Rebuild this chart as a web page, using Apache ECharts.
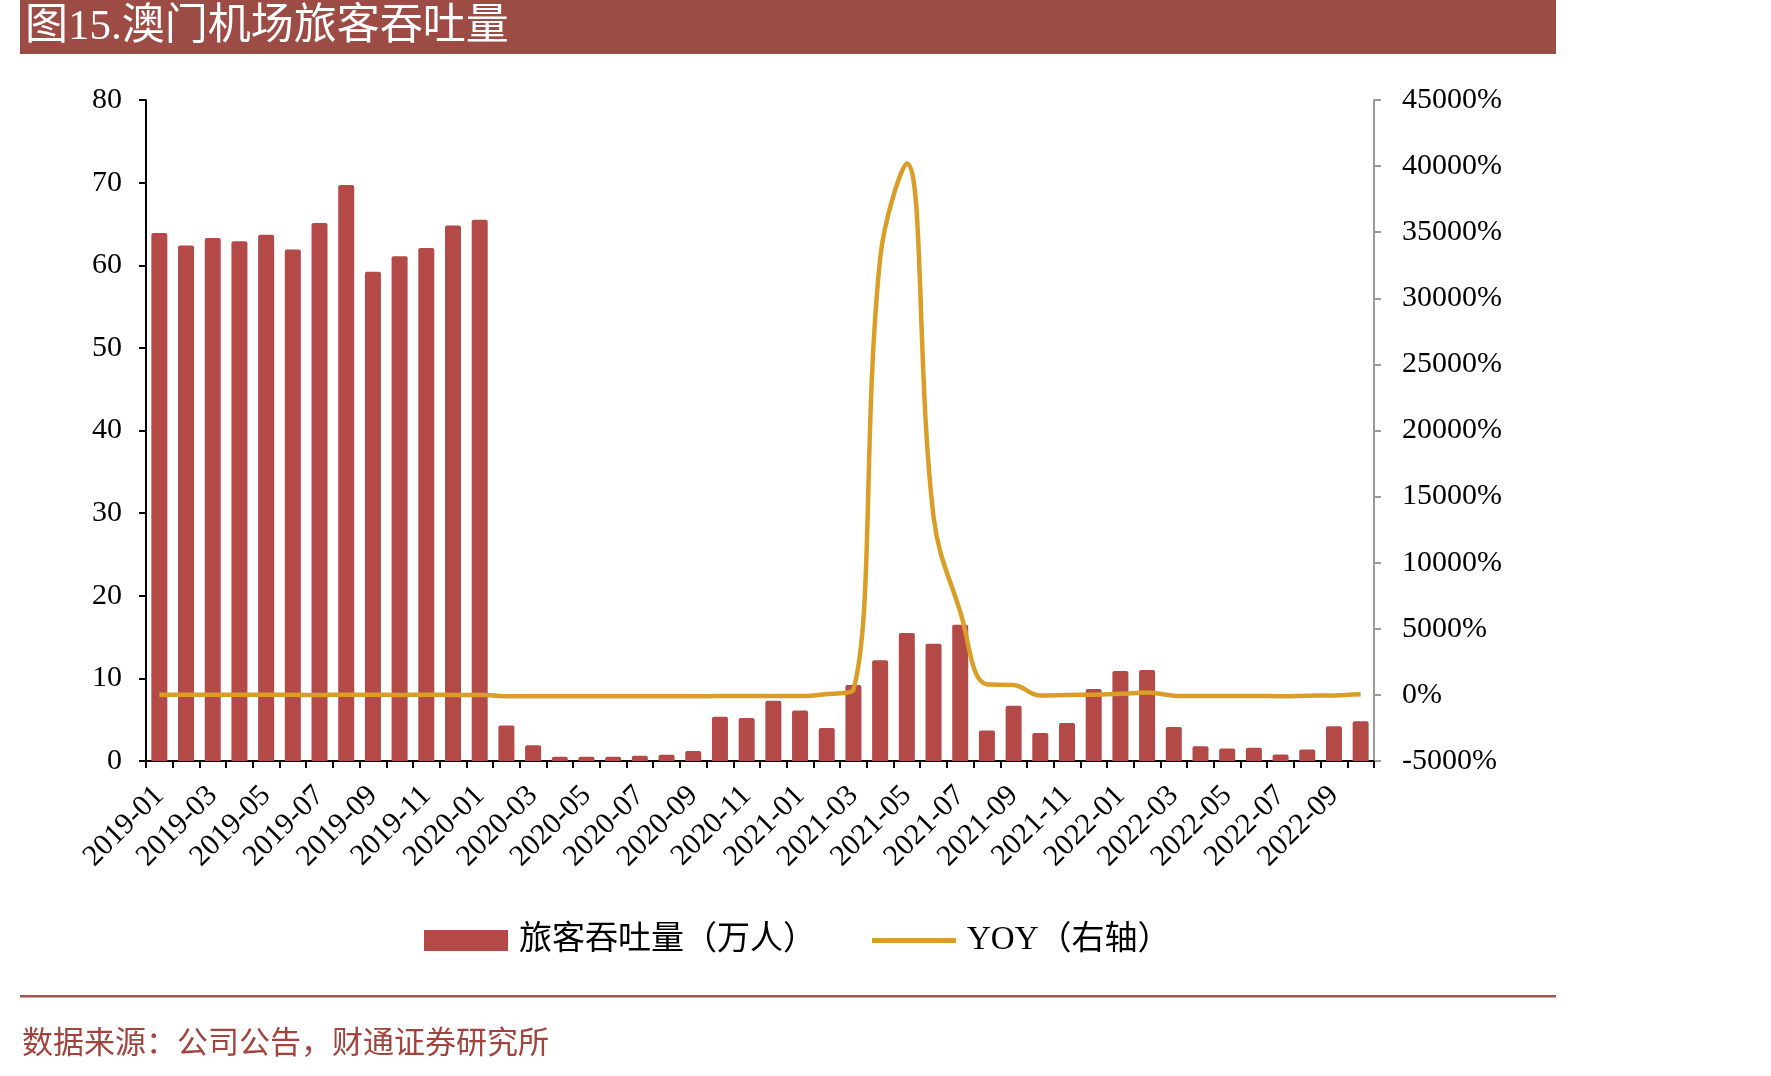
<!DOCTYPE html>
<html>
<head>
<meta charset="utf-8">
<script src="https://cdn.jsdelivr.net/npm/echarts@6/dist/echarts.min.js"></script>
<style>
html,body{margin:0;padding:0;background:#fff;}
#chart{width:1771px;height:1076px;}
</style>
</head>
<body>
<div id="chart"></div>
<script>
const categories = [
  '2019-01','2019-02','2019-03','2019-04','2019-05','2019-06','2019-07','2019-08','2019-09','2019-10','2019-11','2019-12',
  '2020-01','2020-02','2020-03','2020-04','2020-05','2020-06','2020-07','2020-08','2020-09','2020-10','2020-11','2020-12',
  '2021-01','2021-02','2021-03','2021-04','2021-05','2021-06','2021-07','2021-08','2021-09','2021-10','2021-11','2021-12',
  '2022-01','2022-02','2022-03','2022-04','2022-05','2022-06','2022-07','2022-08','2022-09','2022-10'
];
const passengers = [
  63.9,62.4,63.3,62.9,63.7,61.9,65.1,69.7,59.2,61.1,62.1,64.8,
  65.5,4.3,1.9,0.5,0.5,0.5,0.65,0.75,1.2,5.35,5.2,7.3,
  6.1,4.0,9.2,12.2,15.5,14.2,16.5,3.7,6.7,3.4,4.6,8.7,
  10.9,11.0,4.1,1.8,1.5,1.6,0.8,1.4,4.2,4.8
];
const yoy = [
  12,15,10,14,12,10,-8,15,12,-5,10,-5,
  2.5,-93,-97,-99.6,-99.6,-99.4,-99.3,-99,-98,-91.5,-91.6,-89,
  -91,60,400,33000,40200,13500,6300,800,750,-40,-10,20,
  80,180,-55,-85,-90,-89,-95,-62,-37,40
];
const leftTicks = {min:0, max:80, interval:10};
const rightTicks = {min:-5000, max:45000, interval:5000};
const titleText = '图15.澳门机场旅客吞吐量';
const sourceText = '数据来源：公司公告，财通证券研究所';
const seriesNames = ['旅客吞吐量（万人）','YOY（右轴）'];

const serif = '"Liberation Serif","Noto Sans CJK SC",serif';
const chart = echarts.init(document.getElementById('chart'));
chart.setOption({
  animation:false,
  backgroundColor:'#ffffff',
  textStyle:{fontFamily:serif},
  grid:{left:146,right:397,top:100,height:661,containLabel:false},
  legend:{
    left:424, top:924, padding:0,
    itemWidth:84, itemHeight:21, itemGap:56,
    textStyle:{fontSize:33,color:'#000',fontFamily:serif,padding:[0,0,0,6]},
    data:[
      {name:seriesNames[0],icon:'rect'},
      {name:seriesNames[1],icon:'path://M0,0H84V5H0Z'}
    ]
  },
  xAxis:{
    type:'category', data:categories, boundaryGap:true,
    axisLine:{lineStyle:{color:'#000',width:2}},
    axisTick:{show:true,interval:0,length:7,lineStyle:{color:'#000',width:2}},
    axisLabel:{interval:1,rotate:45,margin:30,fontSize:30,color:'#000',fontFamily:serif},
    splitLine:{show:false}
  },
  yAxis:[
    {type:'value',min:leftTicks.min,max:leftTicks.max,interval:leftTicks.interval,
     axisLine:{show:true,lineStyle:{color:'#000',width:2}},
     axisTick:{show:true,length:7,lineStyle:{color:'#000',width:2}},
     axisLabel:{fontSize:30,color:'#000',margin:24,fontFamily:serif},
     splitLine:{show:false}},
    {type:'value',min:rightTicks.min,max:rightTicks.max,interval:rightTicks.interval,position:'right',
     axisLine:{show:true,lineStyle:{color:'#9a9a9a',width:2}},
     axisTick:{show:true,length:7,lineStyle:{color:'#9a9a9a',width:2}},
     axisLabel:{fontSize:30,color:'#000',margin:28,fontFamily:serif,formatter:function(v){return String(v)+'%';}},
     splitLine:{show:false}}
  ],
  series:[
    {name:seriesNames[0],type:'bar',data:passengers,barWidth:16,yAxisIndex:0,
     itemStyle:{color:'#B44A48',borderRadius:[2,2,0,0]}},
    {name:seriesNames[1],type:'line',data:yoy,yAxisIndex:1,smooth:0.4,symbol:'none',
     lineStyle:{color:'#DA9D28',width:4.5},itemStyle:{color:'#DA9D28'}}
  ],
  graphic:[
    {type:'rect',shape:{x:20,y:0,width:1536,height:54},style:{fill:'#9C4B45'},z:0},
    {type:'text',x:25,y:28,style:{text:titleText,fill:'#fff',font:'43px '+serif,textVerticalAlign:'middle',verticalAlign:'middle'}},
    {type:'rect',shape:{x:20,y:995,width:1536,height:2.5},style:{fill:'#A5524D'}},
    {type:'text',x:22,y:1045,style:{text:sourceText,fill:'#A3433D',font:'31px '+serif,verticalAlign:'middle',textVerticalAlign:'middle'}}
  ]
});
</script>
</body>
</html>
